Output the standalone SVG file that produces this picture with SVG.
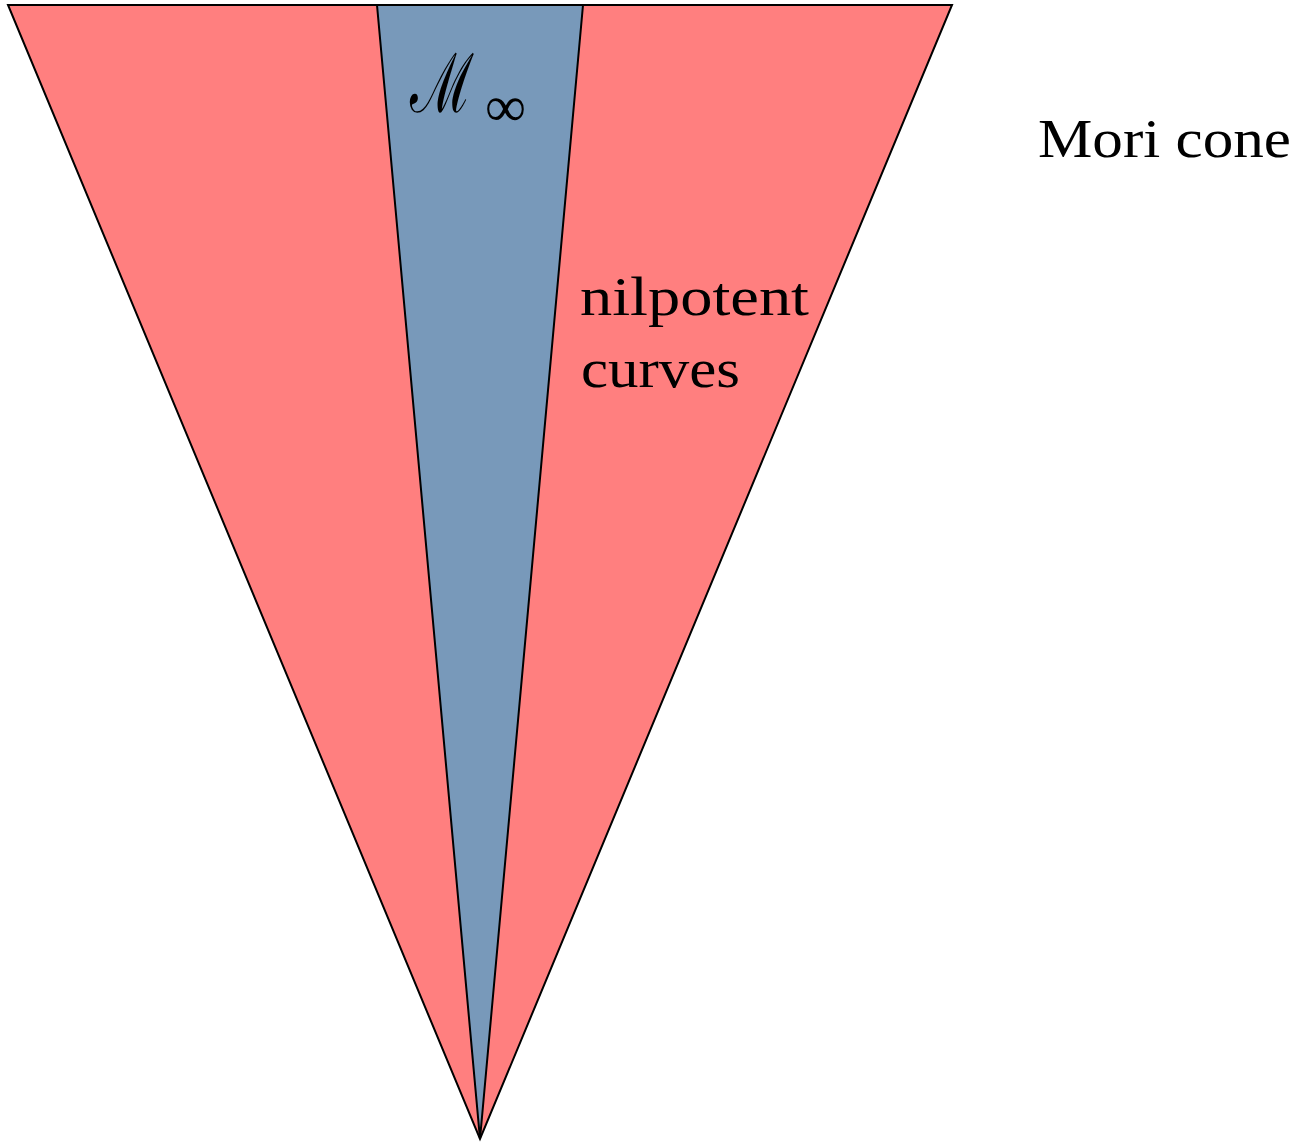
<svg xmlns="http://www.w3.org/2000/svg" width="1315" height="1143" viewBox="0 0 1315 1143">
<style>
.edge{stroke:#000;stroke-width:2;stroke-linejoin:miter}
.red{fill:#FF7F7F}
.blue{fill:#7899BA}
.lbl{font-family:"Liberation Serif","DejaVu Serif",serif;font-size:55px;fill:#000}
</style>
<rect width="1315" height="1143" fill="#fff"/>
<g id="mori-cone">
<polygon class="red edge" points="8,5 952,5 480,1139"/>
</g>
<g id="m-infinity">
<polygon class="blue edge" points="377,5 583,5 480,1139"/>
</g>
<g id="labels">
<text class="lbl" x="410" y="112" textLength="64" lengthAdjust="spacingAndGlyphs" style="font-size:82px">ℳ</text>
<text class="lbl" x="485" y="126" textLength="41" lengthAdjust="spacingAndGlyphs" style="font-size:58px">∞</text>
<text class="lbl" x="1038" y="157" textLength="253" lengthAdjust="spacingAndGlyphs">Mori cone</text>
<text class="lbl" x="580" y="315" textLength="229" lengthAdjust="spacingAndGlyphs">nilpotent</text>
<text class="lbl" x="581" y="387" textLength="159" lengthAdjust="spacingAndGlyphs">curves</text>
</g>
</svg>
